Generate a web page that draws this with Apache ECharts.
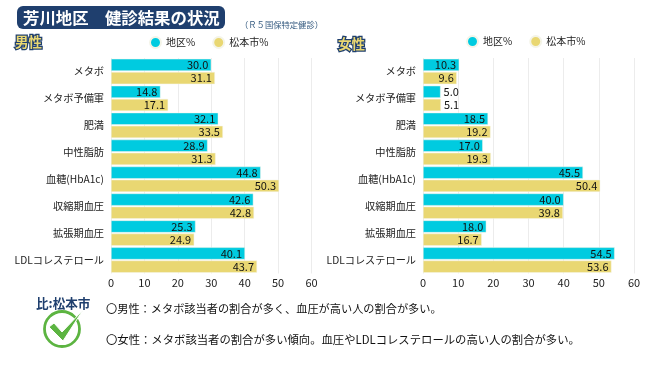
<!DOCTYPE html>
<html><head><meta charset="utf-8">
<style>html,body{margin:0;padding:0;background:#fff}#c{width:650px;height:365px}</style>
<script src="https://cdn.jsdelivr.net/npm/echarts@6/dist/echarts.min.js"></script></head>
<body><div id="c"></div>
<script>
const categories=['メタボ','メタボ予備軍','肥満','中性脂肪','血糖(HbA1c)','収縮期血圧','拡張期血圧','LDLコレステロール'];
const maleArea=[30.0,14.8,32.1,28.9,44.8,42.6,25.3,40.1];
const maleCity=[31.1,17.1,33.5,31.3,50.3,42.8,24.9,43.7];
const femaleArea=[10.3,5.0,18.5,17.0,45.5,40.0,18.0,54.5];
const femaleCity=[9.6,5.1,19.2,19.3,50.4,39.8,16.7,53.6];
const seriesNames=['地区%','松本市%'];
const axisTicks={min:0,max:60,interval:10};
const FONT='"Noto Sans CJK JP"';
const CYAN='#00cbe0',YEL='#e9d772',NAVY='#1f3f6e',GREEN='#5cb441';
const mk=(name,data,idx,color)=>({
  name,type:'bar',xAxisIndex:idx,yAxisIndex:idx,data:data.map(v=>({value:v,label:v<8?{position:'right',distance:3}:{}})),
  barWidth:12.2,barGap:'8%',
  itemStyle:{color,borderColor:'#f4f4e8',borderWidth:0.5},
  label:{show:true,position:'insideRight',distance:3,color:'#111',fontSize:11,fontFamily:FONT,formatter:p=>p.value.toFixed(1)},
  animation:false,silent:true
});
const xA=i=>({gridIndex:i,type:'value',...axisTicks,
  axisLine:{show:false},axisTick:{show:false},
  splitLine:{show:true,lineStyle:{color:'#ececec',width:1}},
  axisLabel:{color:'#222',fontSize:11,fontFamily:FONT,margin:4}});
const yA=i=>({gridIndex:i,type:'category',data:categories,inverse:true,
  axisLine:{show:false},axisTick:{show:false},
  axisLabel:{color:'#222',fontSize:10.2,fontFamily:FONT,margin:7}});
const leg=(left,top)=>({data:seriesNames,left,top,icon:'circle',itemWidth:11,itemHeight:11,itemGap:17,selectedMode:false,
  textStyle:{fontSize:10,color:'#222',fontFamily:FONT}});
const txt=(x,y,text,fontSize,extra)=>({type:'text',x,y,silent:true,style:Object.assign({text,fontSize,fontFamily:FONT,fill:'#111',textVerticalAlign:'middle'},extra||{})});
const genderStyle={fill:YEL,stroke:NAVY,lineWidth:2.5,fontWeight:700};
const chart=echarts.init(document.getElementById('c'),null,{renderer:'canvas'});
chart.setOption({
  animation:false,backgroundColor:'#fff',
  grid:[{left:111,width:200.5,top:58,height:215.5},{left:423,width:211,top:58,height:215.5}],
  xAxis:[xA(0),xA(1)],yAxis:[yA(0),yA(1)],
  legend:[leg(144,31),leg(461,30)],
  series:[mk(seriesNames[0],maleArea,0,CYAN),mk(seriesNames[1],maleCity,0,YEL),mk(seriesNames[0],femaleArea,1,CYAN),mk(seriesNames[1],femaleCity,1,YEL)],
  graphic:[
    {type:'rect',shape:{x:17,y:6,width:208,height:23,r:6},style:{fill:NAVY},silent:true},
    txt(23,18,'芳川地区　健診結果の状況',16.4,{fill:'#fff',fontWeight:700}),
    txt(240,25,'（Ｒ５国保特定健診）',8.3,{fill:'#33597f'}),
    txt(15,42,'男性',13.5,genderStyle),
    txt(338,44,'女性',13.5,genderStyle),
    txt(36,303,'比:松本市',12.6,{fill:NAVY,fontWeight:700}),
    {type:'circle',shape:{cx:62,cy:329,r:17.5},style:{fill:'none',stroke:GREEN,lineWidth:2.8},silent:true},
    {type:'polygon',shape:{points:[[49,327],[54,323],[62,332],[83,310],[63,341]]},style:{fill:GREEN,stroke:'#fff',lineWidth:1},silent:true},
    txt(106,309,'〇男性：メタボ該当者の割合が多く、血圧が高い人の割合が多い。',11.2,{fill:'#111'}),
    txt(106,340,'〇女性：メタボ該当者の割合が多い傾向。血圧やLDLコレステロールの高い人の割合が多い。',11.35,{fill:'#111'})
  ]
});
</script></body></html>
